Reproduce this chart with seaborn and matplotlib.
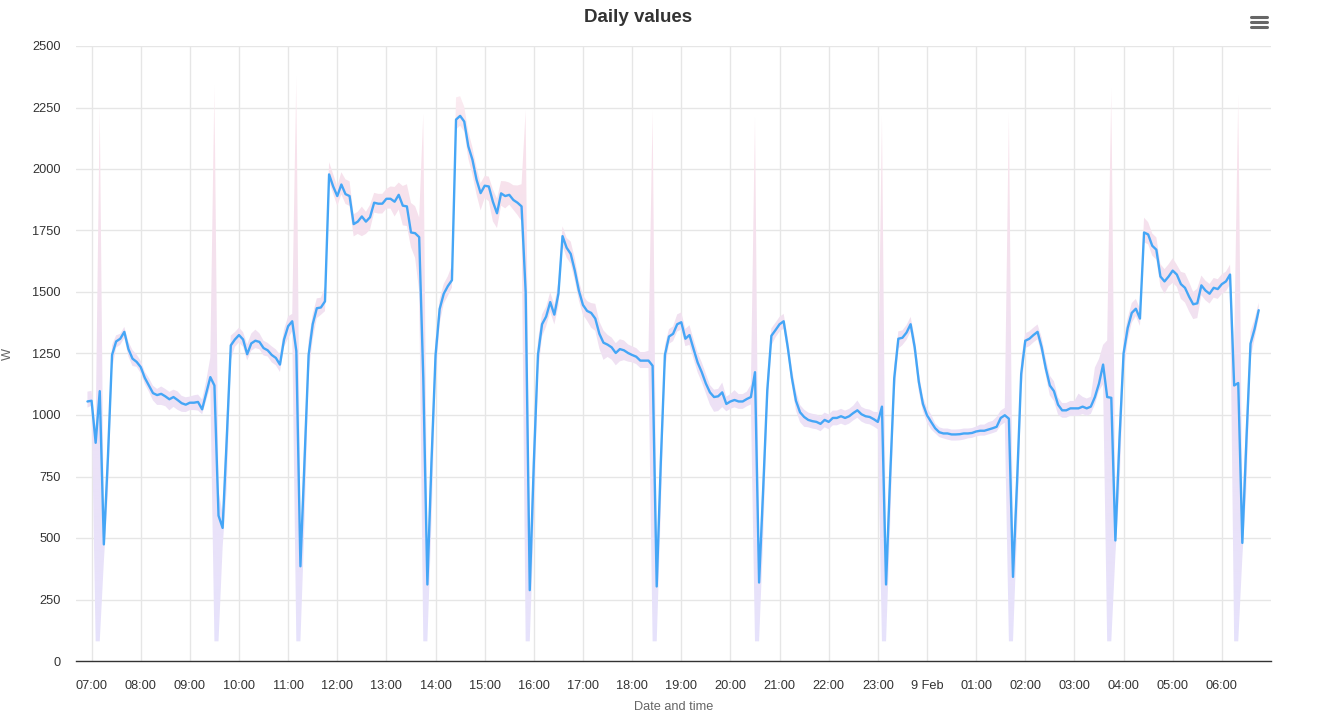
import numpy as np
import pandas as pd
import matplotlib
matplotlib.use("Agg")
import matplotlib.pyplot as plt
import matplotlib.dates as mdates
from matplotlib.ticker import FuncFormatter, FixedLocator
from matplotlib.colors import to_rgba
from matplotlib.lines import Line2D
import seaborn as sns

#############################
### Data (5 min steps) ######
#############################
start_time = "2024-02-08 06:55"

# mean power, W  (first value 06:55, then one row per hour :00 .. :55)
power_mean = [1055,
    1058, 887, 1097, 474, 830, 1244, 1299, 1310, 1338, 1268, 1229, 1216,   # 07
    1195, 1151, 1120, 1089, 1081, 1086, 1076, 1064, 1073, 1061, 1048, 1042,  # 08
    1050, 1050, 1053, 1023, 1089, 1154, 1120, 591, 541, 900, 1283, 1307,    # 09
    1325, 1307, 1247, 1291, 1302, 1297, 1272, 1263, 1244, 1232, 1205, 1307,  # 10
    1361, 1381, 1260, 385, 809, 1244, 1369, 1434, 1437, 1462, 1978, 1929,    # 11
    1890, 1937, 1898, 1890, 1776, 1786, 1807, 1786, 1804, 1863, 1859, 1859,  # 12
    1879, 1879, 1867, 1895, 1851, 1848, 1742, 1739, 1723, 1150, 311, 809,    # 13
    1244, 1431, 1493, 1524, 1548, 2201, 2216, 2193, 2092, 2038, 1957, 1902,  # 14
    1932, 1929, 1867, 1820, 1901, 1890, 1895, 1874, 1863, 1848, 1500, 288,   # 15
    809, 1244, 1369, 1400, 1459, 1408, 1493, 1727, 1680, 1655, 1587, 1505,   # 16
    1447, 1423, 1415, 1392, 1330, 1294, 1286, 1275, 1252, 1268, 1263, 1252,  # 17
    1244, 1237, 1221, 1221, 1221, 1200, 303, 809, 1244, 1319, 1330, 1369,    # 18
    1377, 1310, 1325, 1268, 1213, 1174, 1128, 1092, 1073, 1076, 1092, 1045,  # 19
    1055, 1061, 1055, 1055, 1065, 1073, 1174, 319, 700, 1100, 1322, 1345,    # 20
    1369, 1381, 1275, 1151, 1058, 1011, 992, 980, 975, 972, 964, 980,        # 21
    972, 988, 988, 995, 988, 995, 1008, 1019, 1003, 995, 992, 983,           # 22
    972, 1034, 311, 750, 1150, 1310, 1314, 1335, 1369, 1275, 1135, 1045,     # 23
    999, 972, 946, 930, 925, 925, 921, 921, 922, 925, 925, 927,              # 00
    933, 936, 936, 941, 946, 952, 988, 999, 985, 342, 731, 1167,             # 01
    1302, 1310, 1325, 1338, 1275, 1190, 1120, 1097, 1042, 1019, 1019, 1027,  # 02
    1027, 1027, 1034, 1027, 1034, 1073, 1128, 1205, 1073, 1070, 490, 900,    # 03
    1250, 1353, 1415, 1432, 1392, 1742, 1734, 1688, 1672, 1563, 1543, 1563,  # 04
    1587, 1571, 1532, 1517, 1481, 1450, 1454, 1527, 1506, 1493, 1517, 1512,  # 05
    1532, 1543, 1571, 1120, 1130, 480, 900, 1290, 1350, 1426]                # 06

# how far the daily maximum lies above the mean, W
spread_above = [40,
    40, 60, 1153, 60, 80, 40, 25, 20, 20, 30, 35, 30,      # 07
    25, 25, 30, 30, 25, 30, 30, 30, 30, 35, 30, 30,        # 08
    25, 30, 30, 40, 50, 80, 1220, 100, 60, 100, 40, 30,    # 09
    30, 30, 40, 40, 45, 35, 30, 30, 35, 35, 40, 40,        # 10
    40, 30, 1120, 100, 100, 60, 40, 40, 40, 60, 50, 50,    # 11
    40, 50, 60, 60, 40, 40, 40, 40, 50, 40, 40, 40,        # 12
    40, 50, 60, 50, 80, 90, 120, 110, 80, 1075, 100, 100,  # 13
    60, 40, 40, 40, 60, 90, 80, 60, 60, 50, 50, 40,        # 14
    40, 40, 50, 60, 50, 60, 50, 60, 70, 90, 740, 150,      # 15
    100, 60, 40, 40, 40, 40, 50, 40, 40, 50, 50, 40,       # 16
    40, 40, 40, 60, 50, 50, 40, 40, 40, 40, 40, 35,        # 17
    35, 35, 35, 35, 40, 1040, 100, 80, 40, 30, 30, 40,     # 18
    40, 40, 40, 40, 40, 40, 40, 30, 30, 30, 40, 30,        # 19
    30, 40, 30, 30, 30, 50, 1036, 100, 80, 60, 30, 30,     # 20
    30, 30, 40, 40, 40, 30, 30, 30, 30, 30, 30, 30,        # 21
    30, 30, 30, 30, 30, 30, 30, 40, 30, 30, 30, 30,        # 22
    40, 1181, 100, 80, 50, 30, 30, 30, 30, 40, 40, 30,     # 23
    30, 30, 20, 20, 20, 20, 20, 20, 20, 20, 20, 20,        # 00
    20, 25, 25, 30, 30, 40, 30, 30, 1245, 100, 80, 60,     # 01
    30, 30, 30, 30, 40, 40, 40, 40, 30, 30, 30, 30,        # 02
    30, 60, 40, 40, 40, 120, 100, 80, 230, 1260, 150, 100, # 03
    60, 40, 40, 40, 40, 60, 50, 50, 50, 50, 50, 50,        # 04
    50, 40, 50, 60, 60, 50, 60, 40, 40, 40, 40, 40,        # 05
    40, 40, 40, 150, 1170, 150, 100, 50, 40, 30]           # 06

# how far the daily minimum lies below the mean, W
spread_below = [25,
    20, 807, 1017, 70, 150, 60, 25, 25, 25, 30, 30, 20,    # 07
    25, 25, 25, 30, 40, 45, 40, 45, 40, 40, 35, 30,        # 08
    30, 30, 35, 20, 30, 40, 1040, 511, 80, 200, 60, 30,    # 09
    30, 30, 25, 30, 30, 30, 30, 25, 30, 30, 30, 30,        # 10
    50, 40, 1180, 305, 250, 80, 60, 40, 30, 40, 30, 30,    # 11
    40, 40, 40, 40, 50, 50, 80, 50, 50, 40, 40, 40,        # 12
    40, 40, 60, 60, 80, 80, 60, 100, 220, 1070, 231, 250,  # 13
    100, 60, 40, 40, 30, 40, 40, 40, 50, 60, 60, 70,       # 14
    50, 60, 80, 60, 50, 50, 40, 40, 50, 60, 1420, 208,     # 15
    250, 80, 50, 40, 40, 40, 50, 40, 40, 40, 40, 40,       # 16
    40, 40, 60, 50, 60, 70, 50, 50, 50, 50, 40, 35,        # 17
    30, 30, 30, 30, 30, 1120, 223, 200, 60, 30, 30, 30,    # 18
    30, 30, 40, 40, 40, 40, 40, 50, 60, 60, 60, 30,        # 19
    30, 30, 30, 30, 30, 30, 1094, 239, 200, 80, 40, 30,    # 20
    30, 30, 30, 30, 40, 40, 40, 30, 30, 30, 30, 30,        # 21
    30, 30, 30, 30, 30, 30, 30, 30, 30, 30, 30, 30,        # 22
    30, 954, 231, 200, 80, 40, 30, 30, 30, 40, 40, 30,     # 23
    30, 30, 20, 20, 20, 25, 25, 25, 25, 25, 20, 20,        # 00
    20, 20, 20, 20, 20, 20, 30, 30, 905, 262, 200, 80,     # 01
    30, 30, 30, 30, 30, 30, 40, 40, 40, 30, 30, 30,        # 02
    30, 30, 30, 30, 30, 30, 30, 80, 993, 990, 60, 200,     # 03
    80, 50, 40, 30, 30, 40, 40, 40, 40, 40, 50, 40,        # 04
    50, 50, 60, 60, 60, 60, 60, 40, 40, 40, 40, 40,        # 05
    40, 40, 40, 1040, 1050, 60, 200, 60, 40, 30]           # 06

y_ticks = [0, 250, 500, 750, 1000, 1250, 1500, 1750, 2000, 2250, 2500]
x_ticks = pd.date_range("2024-02-08 07:00", "2024-02-09 06:00", freq="1h")

assert len(power_mean) == len(spread_above) == len(spread_below)

df = pd.DataFrame({
    "time": pd.date_range(start_time, periods=len(power_mean), freq="5min"),
    "power": power_mean,
})
df["low"] = df["power"] - np.array(spread_below)
df["high"] = df["power"] + np.array(spread_above)

###############################
######## Plotting #############
###############################
sns.set_style("white")
plt.rcParams["font.family"] = ["Liberation Sans", "DejaVu Sans"]

W, H = 1321, 718
fig = plt.figure(figsize=(W / 100, H / 100), dpi=100)
ax = fig.add_axes([76 / W, 1 - 661 / H, (1271 - 76) / W, (661 - 46) / H])

x_left = pd.Timestamp("2024-02-08 06:41")
x_right = pd.Timestamp("2024-02-09 07:00")

# min / max band with a vertical pink -> lavender gradient
band = ax.fill_between(df["time"], df["low"], df["high"],
                       facecolor="none", edgecolor="none", linewidth=0)
stops = [(0, "#e6e2fc"), (900, "#ece2f7"), (1600, "#f4e1ee"),
         (2100, "#f9e3ec"), (2450, "#fdf3f6")]
vals = np.linspace(0, 2500, 300)
sv = [s[0] for s in stops]
grad = np.zeros((len(vals), 1, 4))
for c in range(4):
    grad[:, 0, c] = np.interp(vals, sv, [to_rgba(s[1])[c] for s in stops])
im = ax.imshow(grad, extent=[mdates.date2num(x_left), mdates.date2num(x_right), 0, 2500],
               origin="lower", aspect="auto", interpolation="bilinear", zorder=1)
im.set_clip_path(band.get_paths()[0], transform=ax.transData)

sns.lineplot(data=df, x="time", y="power", color="#45a6f6", linewidth=1.7,
             ax=ax, zorder=3)

ax.set_xlim(x_left, x_right)
ax.set_ylim(0, 2500)

# axes cosmetics
ax.set_yticks(y_ticks)
ax.set_yticklabels([str(v) for v in y_ticks])
ax.xaxis.set_major_locator(FixedLocator(mdates.date2num(x_ticks)))


def hour_label(x, pos):
    d = mdates.num2date(x)
    return f"{d.day} Feb" if d.hour == 0 else d.strftime("%H:%M")


ax.xaxis.set_major_formatter(FuncFormatter(hour_label))
ax.grid(True, color="#e6e6e6", linewidth=1)
ax.set_axisbelow(True)
for side in ["left", "right", "top"]:
    ax.spines[side].set_visible(False)
ax.spines["bottom"].set_color("#333333")
ax.spines["bottom"].set_linewidth(1)
ax.tick_params(axis="x", length=7, width=1, color="#333333", pad=7,
               labelsize=9.2, labelcolor="#333333")
ax.tick_params(axis="y", length=0, pad=11, labelsize=9.2, labelcolor="#333333")

ax.set_xlabel("Date and time", fontsize=9.2, color="#666666", labelpad=6)
ax.set_ylabel("W", fontsize=9.2, color="#666666")
ax.yaxis.set_label_coords(-0.052, 0.5)

fig.text(638 / W, 1 - 17 / H, "Daily values", ha="center", va="center",
         fontsize=13.5, fontweight="bold", color="#333333")

# context menu icon (three bars)
for yy in [17.3, 22.3, 27.3]:
    fig.add_artist(Line2D([1251 / W, 1267 / W], [1 - yy / H, 1 - yy / H],
                          color="#666666", linewidth=2.2, solid_capstyle="round"))

fig.savefig("out.png", dpi=100)
